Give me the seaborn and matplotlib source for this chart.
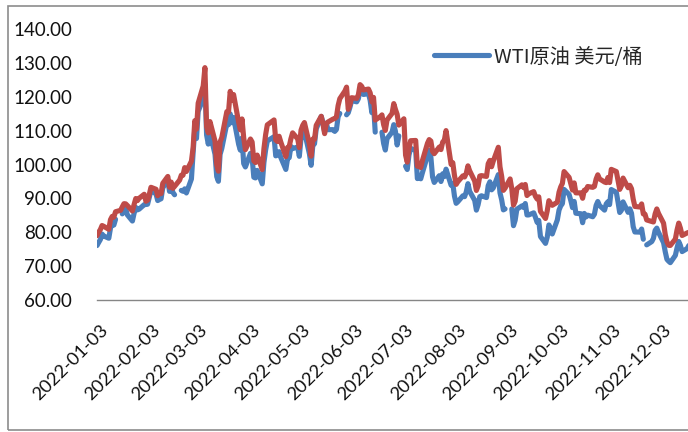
import numpy as np
import pandas as pd
import matplotlib
matplotlib.use("Agg")
import matplotlib.pyplot as plt
import matplotlib.transforms as mtransforms
from matplotlib.lines import Line2D
from matplotlib.patches import Rectangle
from matplotlib.font_manager import FontProperties
import seaborn as sns

nan = np.nan

# trading days of 2022 (month-day)
days = [
    "01-03", "01-04", "01-05", "01-06", "01-07", "01-10", "01-11", "01-12", "01-13", "01-14",
    "01-17", "01-18", "01-19", "01-20", "01-21", "01-24", "01-25", "01-26", "01-27", "01-28", "01-31",
    "02-01", "02-02", "02-03", "02-04", "02-07", "02-08", "02-09", "02-10", "02-11", "02-14",
    "02-15", "02-16", "02-17", "02-18", "02-21", "02-22", "02-23", "02-24", "02-25", "02-28",
    "03-01", "03-02", "03-03", "03-04", "03-07", "03-08", "03-09", "03-10", "03-11", "03-14",
    "03-15", "03-16", "03-17", "03-18", "03-21", "03-22", "03-23", "03-24", "03-25", "03-28",
    "03-29", "03-30", "03-31",
    "04-01", "04-04", "04-05", "04-06", "04-07", "04-08", "04-11", "04-12", "04-13", "04-14",
    "04-18", "04-19", "04-20", "04-21", "04-22", "04-25", "04-26", "04-27", "04-28", "04-29",
    "05-02", "05-03", "05-04", "05-05", "05-06", "05-09", "05-10", "05-11", "05-12", "05-13",
    "05-16", "05-17", "05-18", "05-19", "05-20", "05-23", "05-24", "05-25", "05-26", "05-27",
    "05-30", "05-31",
    "06-01", "06-02", "06-03", "06-06", "06-07", "06-08", "06-09", "06-10", "06-13", "06-14",
    "06-15", "06-16", "06-17", "06-20", "06-21", "06-22", "06-23", "06-24", "06-27", "06-28",
    "06-29", "06-30",
    "07-01", "07-04", "07-05", "07-06", "07-07", "07-08", "07-11", "07-12", "07-13", "07-14",
    "07-15", "07-18", "07-19", "07-20", "07-21", "07-22", "07-25", "07-26", "07-27", "07-28", "07-29",
    "08-01", "08-02", "08-03", "08-04", "08-05", "08-08", "08-09", "08-10", "08-11", "08-12",
    "08-15", "08-16", "08-17", "08-18", "08-19", "08-22", "08-23", "08-24", "08-25", "08-26",
    "08-29", "08-30", "08-31",
    "09-01", "09-02", "09-05", "09-06", "09-07", "09-08", "09-09", "09-12", "09-13", "09-14",
    "09-15", "09-16", "09-19", "09-20", "09-21", "09-22", "09-23", "09-26", "09-27", "09-28",
    "09-29", "09-30",
    "10-03", "10-04", "10-05", "10-06", "10-07", "10-10", "10-11", "10-12", "10-13", "10-14",
    "10-17", "10-18", "10-19", "10-20", "10-21", "10-24", "10-25", "10-26", "10-27", "10-28", "10-31",
    "11-01", "11-02", "11-03", "11-04", "11-07", "11-08", "11-09", "11-10", "11-11", "11-14",
    "11-15", "11-16", "11-17", "11-18", "11-21", "11-22", "11-23", "11-24", "11-25", "11-28",
    "11-29", "11-30",
    "12-01", "12-02", "12-05", "12-06", "12-07", "12-08", "12-09", "12-12", "12-13", "12-14",
    "12-15", "12-16", "12-19", "12-20",
]

# WTI (blue), empty on US holidays -> gap in the line
wti = [
    76.08, 76.99, 77.85, 79.46, 78.90, 78.23, 81.22, 82.64, 82.12, 83.82,
    nan, 85.43, 86.96, 86.90, 85.14, 83.31, 85.60, 87.35, 86.61, 86.82, 88.15,
    88.20, 88.26, 90.27, 92.31, 91.32, 89.36, 89.66, 89.88, 93.10, 95.46,
    92.07, 93.66, 91.76, 91.07, nan, 92.35, 92.10, 92.81, 91.59, 95.72,
    103.41, 110.60, 107.67, 115.68, 119.40, 123.70, 108.70, 106.02, 109.33, 103.01,
    96.44, 95.04, 102.98, 104.70, 112.12, 111.76, 114.93, 112.34, 113.90, 105.96,
    104.24, 107.82, 100.28,
    99.27, 103.28, 101.96, 96.23, 96.03, 98.26, 94.29, 100.60, 104.25, 106.95,
    108.21, 102.56, 102.75, 103.79, 102.07, 98.54, 101.70, 102.02, 105.36, 104.69,
    105.17, 102.41, 107.81, 108.26, 109.77, 103.09, 99.76, 105.71, 106.13, 110.49,
    114.20, 112.40, 109.59, 112.21, 110.28, 110.29, 109.77, 110.33, 114.09, 115.07,
    nan, 114.67,
    115.26, 116.87, 118.87, 118.50, 119.41, 122.11, 121.51, 120.67, 120.93, 118.93,
    115.31, 117.59, 109.56, nan, 109.52, 106.19, 104.27, 107.62, 109.57, 111.76,
    109.78, 105.76,
    108.43, nan, 99.50, 98.53, 102.73, 104.79, 104.09, 95.84, 96.30, 95.78,
    97.59, 102.60, 104.22, 102.26, 96.35, 94.70, 96.70, 94.98, 97.26, 96.42, 98.62,
    93.89, 94.42, 90.66, 88.54, 89.01, 90.76, 90.50, 91.93, 94.34, 92.09,
    89.41, 86.53, 88.11, 90.50, 90.77, 90.23, 93.74, 94.89, 92.52, 93.06,
    97.01, 91.64, 89.55,
    86.61, 86.87, nan, 86.88, 81.94, 83.54, 86.79, 87.78, 87.31, 88.48,
    85.10, 85.11, 85.73, 84.45, 82.94, 83.49, 78.74, 76.71, 78.50, 82.15,
    81.23, 79.49,
    83.63, 86.52, 87.76, 88.45, 92.64, 91.13, 89.35, 87.27, 89.11, 85.61,
    85.46, 82.82, 85.55, 84.51, 85.05, 84.58, 85.32, 87.91, 89.08, 87.90, 86.53,
    88.37, 89.00, 88.17, 92.61, 91.79, 88.91, 85.83, 86.47, 88.96, 85.87,
    86.92, 85.59, 81.64, 80.08, 80.04, 80.95, 77.94, nan, 76.28, 77.24,
    78.20, 80.55,
    81.22, 79.98, 76.93, 74.25, 72.01, 71.46, 71.02, 73.17, 75.39, 77.28,
    76.11, 74.29, 75.19, 76.09,
]

# Brent (red)
brent = [
    78.98, 80.00, 80.80, 81.99, 81.75, 80.87, 83.72, 84.67, 84.47, 86.06,
    86.48, 87.51, 88.44, 88.38, 87.89, 86.27, 88.20, 89.96, 89.34, 90.03, 91.21,
    89.16, 89.47, 91.11, 93.27, 92.69, 90.78, 91.55, 91.41, 94.44, 96.48,
    93.28, 94.81, 92.97, 93.54, 95.39, 96.84, 96.84, 99.08, 97.93, 100.99,
    104.97, 112.93, 110.46, 118.11, 123.21, 128.60, 111.14, 109.33, 112.67, 106.90,
    99.91, 98.02, 106.64, 107.93, 115.62, 115.48, 121.60, 119.03, 120.65, 112.48,
    110.23, 113.45, 107.91,
    104.39, 107.53, 106.64, 101.07, 100.58, 102.78, 98.48, 104.64, 108.78, 111.70,
    113.16, 107.25, 106.80, 108.33, 106.65, 102.32, 104.99, 105.32, 107.59, 109.34,
    107.58, 104.97, 110.14, 111.55, 112.39, 105.94, 102.46, 107.51, 107.45, 111.55,
    114.24, 111.93, 109.11, 112.04, 112.55, 113.42, 113.56, 114.03, 117.40, 119.43,
    121.67, 122.84,
    116.29, 117.61, 119.72, 119.51, 120.57, 123.58, 123.07, 122.01, 122.27, 121.17,
    118.51, 119.81, 113.12, 114.13, 114.65, 111.74, 110.05, 113.12, 115.09, 117.98,
    116.26, 114.81,
    111.63, 113.50, 102.77, 100.69, 104.65, 107.02, 107.10, 99.49, 99.57, 99.10,
    101.16, 106.27, 107.35, 106.92, 103.86, 103.20, 105.15, 104.40, 106.62, 107.14, 110.01,
    100.03, 100.54, 96.78, 94.12, 94.92, 96.65, 96.31, 97.40, 99.60, 98.15,
    95.10, 92.34, 93.65, 96.59, 96.72, 96.48, 100.22, 101.22, 99.34, 100.99,
    105.09, 99.31, 96.49,
    92.36, 93.02, 95.74, 92.83, 88.00, 89.15, 92.84, 94.00, 93.17, 94.10,
    90.84, 91.35, 92.00, 90.62, 89.83, 90.46, 86.15, 84.06, 86.27, 89.32,
    88.49, 87.96,
    88.86, 91.80, 93.37, 94.42, 97.92, 96.19, 94.29, 92.45, 94.57, 91.63,
    91.62, 90.03, 92.41, 92.38, 93.50, 93.26, 93.52, 95.69, 96.96, 95.77, 94.83,
    94.65, 96.16, 94.67, 98.57, 97.92, 95.36, 92.65, 93.67, 95.99, 93.14,
    93.86, 92.86, 89.78, 87.62, 87.45, 88.36, 85.41, 85.34, 83.63, 83.19,
    83.03, 85.43,
    86.88, 85.57, 82.68, 79.35, 77.17, 76.15, 76.10, 77.99, 80.68, 82.70,
    81.21, 79.04, 79.80, 79.99,
]

tick_labels = ["2022-01-03", "2022-02-03", "2022-03-03", "2022-04-03", "2022-05-03", "2022-06-03",
               "2022-07-03", "2022-08-03", "2022-09-03", "2022-10-03", "2022-11-03", "2022-12-03"]
y_ticks = [60, 70, 80, 90, 100, 110, 120, 130, 140]
legend_label = "WTI原油 美元/桶"

sns.set_style("white")
plt.rcParams["font.family"] = ["Lato", "DejaVu Sans"]

df = pd.DataFrame({"date": pd.to_datetime(["2022-" + d for d in days]),
                   "wti": wti, "brent": brent})
# gaps (holidays) split the WTI line into separate pieces
df["seg"] = df["wti"].isna().cumsum()

blue = "#4A7EBB"
red = "#BE4B48"
lw = 3.7

fig = plt.figure(figsize=(6.88, 4.32), dpi=100)
ax = fig.add_axes([97 / 688, 132 / 432, 591 / 688, 271 / 432])

line_kw = dict(linewidth=lw, solid_capstyle="round", solid_joinstyle="round")
sns.lineplot(data=df.dropna(subset=["wti"]), x="date", y="wti", units="seg",
             estimator=None, color=blue, legend=False, ax=ax, **line_kw)
sns.lineplot(data=df, x="date", y="brent", estimator=None, color=red,
             legend=False, ax=ax, **line_kw)

ax.set_ylim(60, 140)
ax.set_yticks(y_ticks)
ax.set_yticklabels([f"{v:.2f}" for v in y_ticks])
ax.set_xlim(pd.Timestamp("2022-01-03"), pd.Timestamp("2022-12-19 12:00"))
ax.set_xticks(pd.to_datetime(tick_labels))
ax.set_xticklabels(tick_labels, rotation=45, ha="right", va="top", rotation_mode="anchor")
ax.set_xlabel("")
ax.set_ylabel("")

for s in ["left", "right", "top"]:
    ax.spines[s].set_visible(False)
ax.spines["bottom"].set_color("#868686")
ax.spines["bottom"].set_linewidth(1.0)

ax.tick_params(axis="y", length=0, pad=18, labelsize=13.5, labelcolor="#111111")
ax.tick_params(axis="x", length=3.6, width=0.8, color="#868686", direction="out",
               pad=12, labelsize=13.2, labelcolor="#111111")
shift = mtransforms.ScaledTranslation(3 / 100, 0, fig.dpi_scale_trans)
for lbl in ax.get_xticklabels():
    lbl.set_transform(lbl.get_transform() + shift)
ax.grid(False)

# outer chart frame (right side cropped)
fig.patches.append(Rectangle((8 / 688, 2 / 432), 1.0, 424 / 432, transform=fig.transFigure,
                             fill=False, edgecolor="#8c8c8c", linewidth=1.2))

handle = Line2D([], [], color=blue, linewidth=lw, solid_capstyle="round")
fig.legend([handle], [legend_label], loc="center left",
           bbox_to_anchor=(434 / 688, 1 - 57 / 432), frameon=False,
           borderpad=0, borderaxespad=0, handlelength=2.75, handletextpad=0.22,
           prop=FontProperties(family=["Noto Sans CJK SC", "DejaVu Sans"], size=14.5))

fig.savefig("out.png", dpi=100)
